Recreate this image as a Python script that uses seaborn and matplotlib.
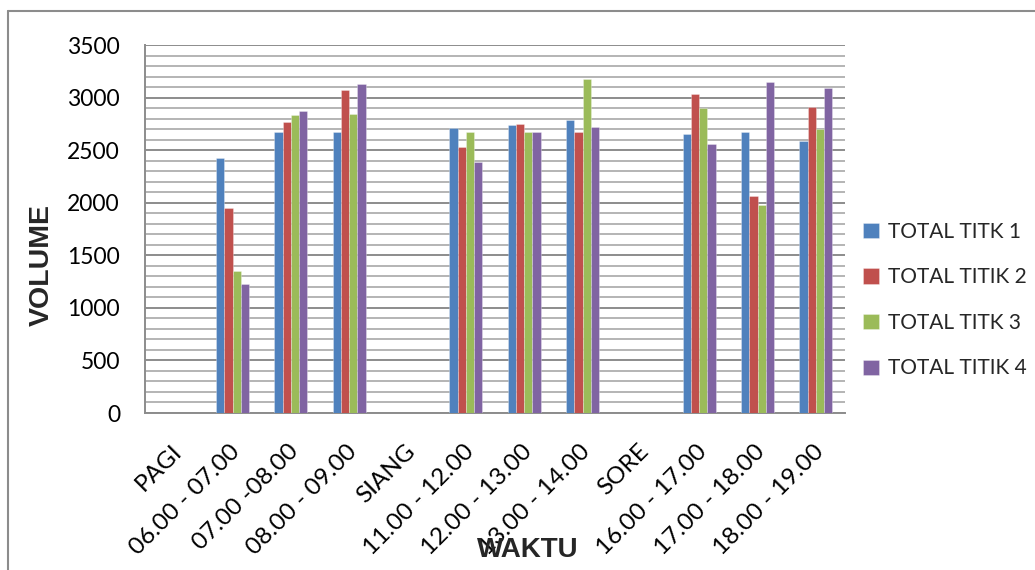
import numpy as np
import pandas as pd
import seaborn as sns
import matplotlib.pyplot as plt
from matplotlib.lines import Line2D
from matplotlib.ticker import MultipleLocator
from matplotlib.transforms import ScaledTranslation

# Time slots on the x axis (PAGI / SIANG / SORE are section headers without data)
waktu = ["PAGI", "06.00 - 07.00", "07.00 -08.00", "08.00 - 09.00",
         "SIANG", "11.00 - 12.00", "12.00 - 13.00", "13.00 - 14.00",
         "SORE", "16.00 - 17.00", "17.00 - 18.00", "18.00 - 19.00"]

series_names = ["TOTAL TITK 1", "TOTAL TITIK 2", "TOTAL TITK 3", "TOTAL TITIK 4"]

titik_1 = [np.nan, 2430, 2670, 2676, np.nan, 2708, 2736, 2790, np.nan, 2650, 2670, 2587]
titik_2 = [np.nan, 1950, 2771, 3075, np.nan, 2527, 2746, 2676, np.nan, 3034, 2061, 2913]
titik_3 = [np.nan, 1355, 2831, 2847, np.nan, 2670, 2670, 3180, np.nan, 2901, 1975, 2698]
titik_4 = [np.nan, 1230, 2872, 3126, np.nan, 2384, 2670, 2717, np.nan, 2558, 3148, 3091]

colors = ["#4F81BD", "#C0504D", "#9BBB59", "#8064A2"]

rows = []
for name, vals in zip(series_names, [titik_1, titik_2, titik_3, titik_4]):
    for w, v in zip(waktu, vals):
        rows.append({"WAKTU": w, "VOLUME": v, "SERI": name})
df = pd.DataFrame(rows)

sns.set_style("white")
plt.rcParams["font.family"] = ["Lato", "DejaVu Sans"]

fig = plt.figure(figsize=(10.35, 5.70), dpi=100)
ax = fig.add_axes([145 / 1035, 1 - 413 / 570, 700 / 1035, 368 / 570])

sns.barplot(data=df, x="WAKTU", y="VOLUME", hue="SERI", order=waktu,
            hue_order=series_names, palette=colors, width=0.57,
            saturation=1, errorbar=None, ax=ax, legend=True,
            edgecolor=(1, 1, 1, 0.35), linewidth=0.6, zorder=3)

ax.set_ylim(0, 3500)
ax.set_xlim(-0.5, len(waktu) - 0.5)
ax.yaxis.set_major_locator(MultipleLocator(500))
ax.yaxis.set_minor_locator(MultipleLocator(100))
ax.grid(which="major", axis="y", color="#8C8C8C", linewidth=1.4, zorder=0)
ax.grid(which="minor", axis="y", color="#B4B4B4", linewidth=1.4, zorder=0)
ax.set_axisbelow(True)

for side in ["top", "right"]:
    ax.spines[side].set_visible(False)
for side in ["left", "bottom"]:
    ax.spines[side].set_color("#8C8C8C")
    ax.spines[side].set_linewidth(1.4)

ax.tick_params(axis="y", which="major", direction="out", length=8, width=1.4,
               color="#8C8C8C", pad=10, labelsize=16.5, labelcolor="black")
ax.tick_params(axis="y", which="minor", length=0)
ax.tick_params(axis="x", length=0, pad=4, labelsize=17.5, labelcolor="black")
label_shift = ScaledTranslation(-3 / 100, -22 / 100, fig.dpi_scale_trans)
for lbl in ax.get_xticklabels():
    lbl.set_rotation(45)
    lbl.set_ha("right")
    lbl.set_va("top")
    lbl.set_rotation_mode("anchor")
    lbl.set_transform(lbl.get_transform() + label_shift)

ax.set_xlabel("WAKTU", fontsize=20, fontweight="bold",
              family=["Liberation Sans", "DejaVu Sans"])
ax.xaxis.set_label_coords((528 - 145) / 700, -(550 - 413) / 368)
ax.xaxis.label.set_va("center")
ax.set_ylabel("VOLUME", fontsize=20.5, fontweight="bold",
              family=["Liberation Sans", "DejaVu Sans"])
ax.yaxis.set_label_coords(-(145 - 42) / 700, (413 - 265) / 368)
ax.yaxis.label.set_va("center")

handles, labels = ax.get_legend_handles_labels()
ax.legend(handles, labels, loc="center left",
          bbox_to_anchor=(855 / 1035, 1 - 300 / 570),
          bbox_transform=fig.transFigure, frameon=False, fontsize=15,
          handlelength=0.75, handleheight=0.75, handletextpad=0.45,
          labelspacing=1.23, borderaxespad=0)

# Outer chart frame
frame_kw = dict(color="#8C8C8C", linewidth=1.5, transform=fig.transFigure)
fig.add_artist(Line2D([8 / 1035, 8 / 1035], [0, 1 - 11 / 570], **frame_kw))
fig.add_artist(Line2D([8 / 1035, 1], [1 - 11 / 570, 1 - 11 / 570], **frame_kw))

fig.savefig("out.png", dpi=100)
